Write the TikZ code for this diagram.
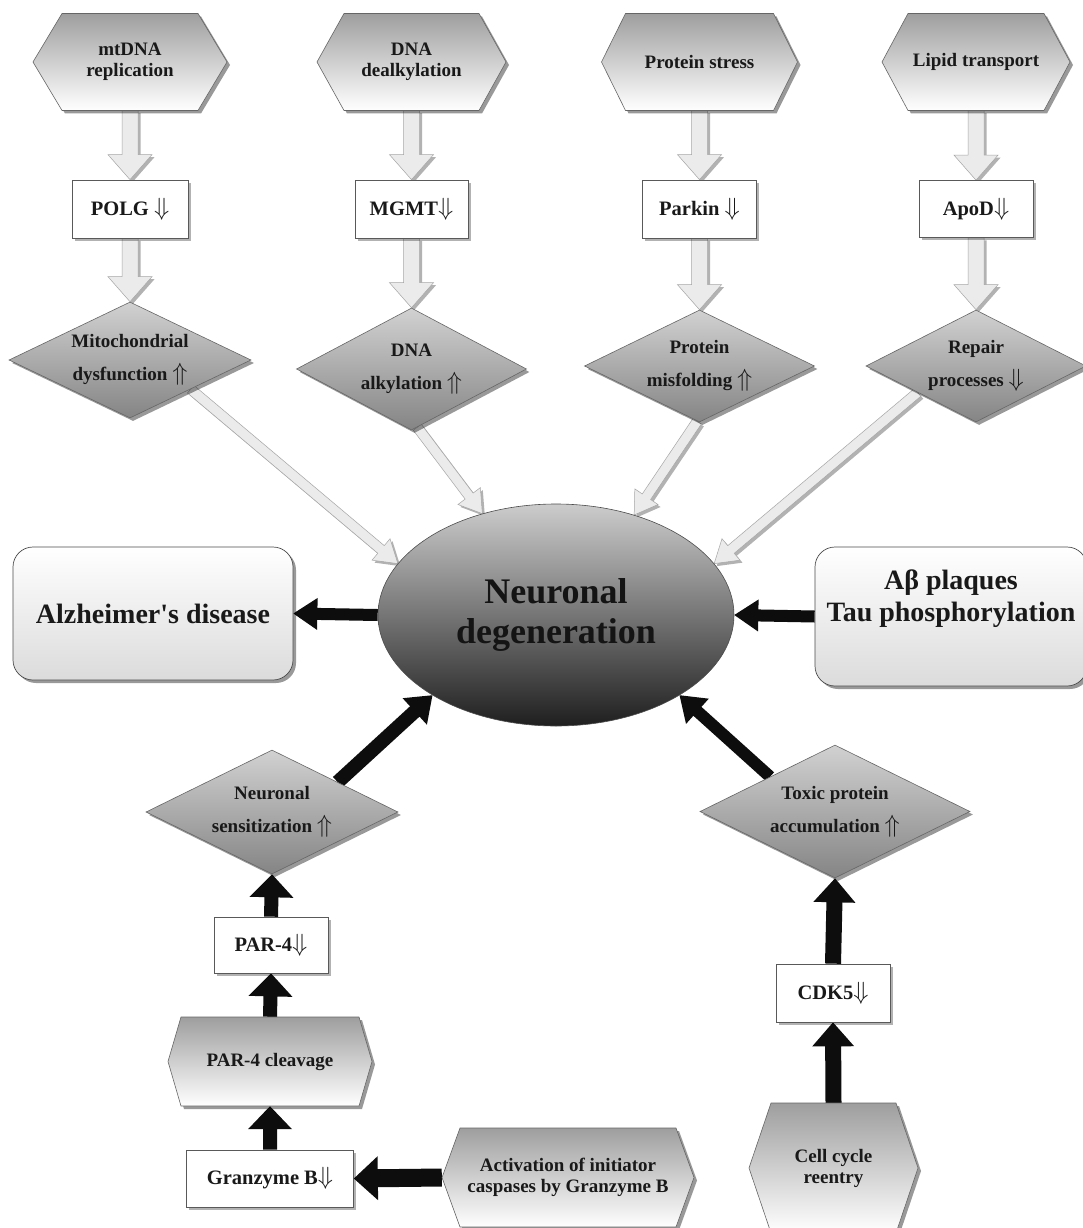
\documentclass[tikz,border=0pt]{standalone}
\usepackage{fontspec}
\setmainfont{Liberation Serif}
\usetikzlibrary{shapes.geometric,shadows,calc,backgrounds}

\tikzset{
  shd/.style={drop shadow={shadow xshift=3pt,shadow yshift=-3pt,opacity=0.4,fill=black}},
  lshd/.style={drop shadow={shadow xshift=2.5pt,shadow yshift=-2.5pt,opacity=0.3,fill=black}},
  hexfill/.style={draw=black!60,line width=0.6pt,top color=black!38,bottom color=white,shd},
  hexlbl/.style={inner sep=0pt,align=center,text=black!90,font=\bfseries\fontsize{19}{21}\selectfont},
  dia/.style={diamond,shape aspect=2,draw=black!60,line width=0.6pt,top color=black!18,bottom color=black!48,shd,
    inner sep=0pt,align=center,text=black!90,font=\bfseries\fontsize{19}{33}\selectfont},
  sbox/.style={rectangle,draw=black!65,line width=0.7pt,fill=white,lshd,inner sep=0pt,
    text=black!90,font=\bfseries\fontsize{20.5}{24}\selectfont},
  rbox/.style={rectangle,rounded corners=20pt,draw=black!70,line width=0.7pt,top color=white,bottom color=black!14,shd,
    inner sep=0pt},
  bigtxt/.style={align=center,text=black!90,font=\bfseries\fontsize{28}{32}\selectfont},
  ell/.style={ellipse,draw=black!70,line width=0.6pt,top color=black!20,middle color=black!45,bottom color=black!88,
    inner sep=0pt,align=center,text=black!92,font=\bfseries\fontsize{36}{40}\selectfont},
  larr/.style={fill=black!8,draw=black!35,line width=0.5pt,lshd},
  barr/.style={fill=black!95},
}

\newcommand{\dn}{{\fontsize{24}{24}\selectfont$\Downarrow$}}
\newcommand{\upa}{{\fontsize{26}{26}\selectfont$\Uparrow$}}
\newcommand{\dnd}{{\fontsize{26}{26}\selectfont$\Downarrow$}}

% hexagon: name, cx, cy, half width, half height, inset, text
\newcommand{\hexn}[7]{%
  \path[hexfill] ({#2-#4},#3) -- ({#2-#4+#6},{#3-#5}) -- ({#2+#4-#6},{#3-#5}) -- ({#2+#4},#3)
     -- ({#2+#4-#6},{#3+#5}) -- ({#2-#4+#6},{#3+#5}) -- cycle;
  \node[hexlbl,minimum width={2*#4},minimum height={2*#5}] (#1) at (#2,#3) {#7};
}

% block arrow: style, from, to, shaft half width, head half width, head length
\newcommand{\barw}[6]{%
  \coordinate (bah) at ($(#3)!#6!(#2)$);
  \path[#1] ($(#2)!#4!90:(#3)$) -- ($(bah)!#4!90:(#3)$) -- ($(bah)!#5!90:(#3)$) -- (#3)
     -- ($(bah)!#5!-90:(#3)$) -- ($(bah)!#4!-90:(#3)$) -- ($(#2)!#4!-90:(#3)$) -- cycle;
}

\begin{document}
\begin{tikzpicture}[x=1pt,y=-1pt]
\useasboundingbox (0,0) rectangle (1082,1228);

% top hexagons
\hexn{mt}{130}{62}{97}{48.5}{29}{mtDNA\\replication}
\hexn{dd}{411.5}{62}{94.5}{48.5}{27}{DNA\\dealkylation}
\hexn{ps}{699.5}{62}{98}{48.5}{24}{Protein stress}
\hexn{lt}{976}{62}{94}{48.5}{26}{Lipid transport}

% boxes
\node[sbox,minimum width=116,minimum height=58] (po) at (130,209) {POLG \dn};
\node[sbox,minimum width=113,minimum height=58] (mg) at (411.5,209) {MGMT\dn};
\node[sbox,minimum width=114,minimum height=58] (pk) at (699.5,209) {Parkin \dn};
\node[sbox,minimum width=114,minimum height=57] (ap) at (976,209) {ApoD\dn};

% diamonds
\node[dia,minimum width=242,minimum height=116] (mi) at (130,360) {Mitochondrial\\dysfunction \upa};
\node[dia,minimum width=230,minimum height=122] (al) at (411.5,369) {DNA\\alkylation \upa};
\node[dia,minimum width=230,minimum height=112] (pm) at (699.5,366) {Protein\\misfolding \upa};
\node[dia,minimum width=220,minimum height=112] (rp) at (976,366) {Repair\\processes \dnd};

% centre
\node[ell,minimum width=356,minimum height=222] (nd) at (556,615) {Neuronal\\degeneration};

% side boxes
\node[rbox,minimum width=280,minimum height=133,bigtxt] (alz) at (153,613.5) {Alzheimer\textquotesingle s disease};
\node[rbox,minimum width=272,minimum height=139] (ab) at (951,616.5) {};
\node[bigtxt] (abt) at ([yshift=18pt]ab.center) {Aβ plaques\\Tau phosphorylation};

% lower diamonds
\node[dia,minimum width=252,minimum height=124] (ns) at (272,812) {Neuronal\\sensitization \upa};
\node[dia,minimum width=270,minimum height=133] (tx) at (835,811.5) {Toxic protein\\accumulation \upa};

% lower left chain
\node[sbox,minimum width=114,minimum height=56] (p4) at (271,945) {PAR-4\dn};
\hexn{pc}{270}{1061.5}{102}{44.5}{13}{PAR-4 cleavage}
\node[sbox,minimum width=167,minimum height=57] (gz) at (270,1178.5) {Granzyme B\dn};
\hexn{ac}{568}{1177.5}{126}{49.5}{18}{Activation of initiator\\caspases by Granzyme B}

% lower right chain
\node[sbox,minimum width=114,minimum height=58] (cd) at (833,993) {CDK5\dn};
\hexn{cc}{833.5}{1168}{84.5}{65}{22}{Cell cycle\\reentry}

\begin{pgfonlayer}{background}
\fill[white] (0,0) rectangle (1082,1228);
% light vertical arrows
\barw{larr}{mt.south}{po.north}{8pt}{22pt}{25pt}
\barw{larr}{dd.south}{mg.north}{8pt}{22pt}{25pt}
\barw{larr}{ps.south}{pk.north}{8pt}{22pt}{25pt}
\barw{larr}{lt.south}{ap.north}{8pt}{22pt}{25pt}
\barw{larr}{po.south}{mi.north}{8pt}{22pt}{25pt}
\barw{larr}{mg.south}{al.north}{8pt}{22pt}{25pt}
\barw{larr}{pk.south}{pm.north}{8pt}{22pt}{25pt}
\barw{larr}{ap.south}{rp.north}{8pt}{22pt}{25pt}
% light diagonal arrows
\coordinate (s1) at ($(mi.east)!0.5!(mi.south)$);
\coordinate (s2) at ($(al.south)!0.05!(al.east)$);
\coordinate (s3) at ($(pm.south)!0.02!(pm.west)$);
\coordinate (s4) at ($(rp.west)!0.47!(rp.south)$);
\barw{larr}{s1}{nd.162}{5pt}{14pt}{22pt}
\barw{larr}{s2}{nd.126}{5pt}{14pt}{22pt}
\barw{larr}{s3}{nd.52}{5pt}{14pt}{22pt}
\barw{larr}{s4}{nd.18}{5pt}{14pt}{22pt}
% black arrows
\barw{barr}{nd.west}{alz.east}{6pt}{16pt}{24pt}
\barw{barr}{ab.west}{nd.east}{6pt}{16pt}{24pt}
\coordinate (s5) at ($(ns.north)!0.52!(ns.east)$);
\coordinate (s6) at ($(tx.north)!0.48!(tx.west)$);
\barw{barr}{s5}{nd.213}{7pt}{18pt}{24pt}
\barw{barr}{s6}{nd.327}{6pt}{17pt}{24pt}
\barw{barr}{p4.north}{ns.south}{7pt}{22pt}{23pt}
\barw{barr}{pc.north}{p4.south}{7pt}{22pt}{23pt}
\barw{barr}{gz.north}{pc.south}{7pt}{22pt}{23pt}
\barw{barr}{ac.west}{gz.east}{9pt}{22pt}{24pt}
\barw{barr}{cc.north}{cd.south}{8pt}{21pt}{24pt}
\barw{barr}{cd.north}{tx.south}{8pt}{21pt}{24pt}
\end{pgfonlayer}
\end{tikzpicture}
\end{document}
